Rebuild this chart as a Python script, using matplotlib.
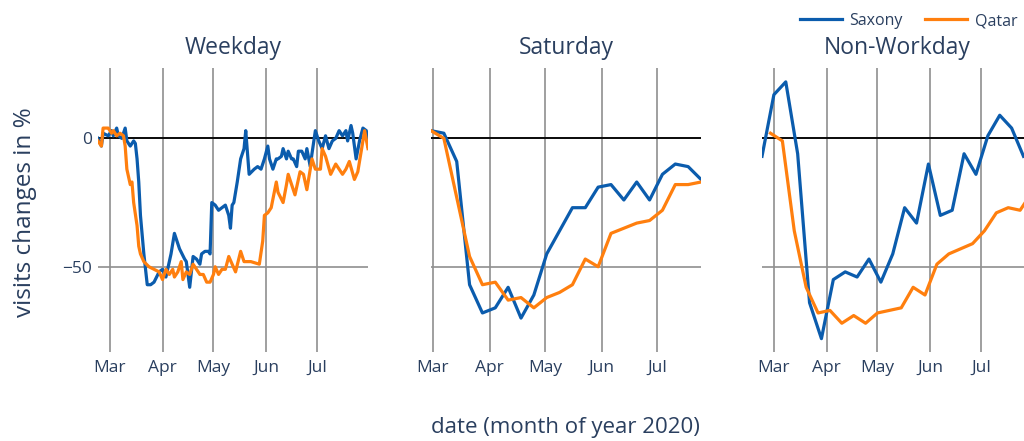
import matplotlib
matplotlib.use("Agg")
import matplotlib.pyplot as plt
import numpy as np

plt.rcParams['font.family'] = ['Open Sans', 'DejaVu Sans']

# day offsets are counted from 2020-03-01
start = np.datetime64('2020-03-01')

panels = ["Weekday", "Saturday", "Non-Workday"]
months = ['2020-03-01', '2020-04-01', '2020-05-01', '2020-06-01', '2020-07-01']
month_labels = ["Mar", "Apr", "May", "Jun", "Jul"]

# Weekday
wd_saxony_days = [-7, -5, -4, -1, 1, 2, 4, 5, 7, 9, 10, 12, 14, 15, 16, 17, 18, 20, 22, 24,
                  26, 29, 31, 33, 36, 38, 41, 44, 45, 47, 49, 51, 53, 54, 56, 58, 59, 60, 62, 64,
                  66, 68, 70, 71, 72, 73, 75, 77, 79, 80, 82, 85, 87, 89, 91, 93, 94, 96, 98, 99,
                  101, 102, 104, 105, 107, 108, 110, 111, 113, 115, 116, 118, 119, 121, 123, 125,
                  127, 129, 131, 133, 135, 137, 139, 140, 142, 143, 145, 147, 149, 151, 152]
wd_saxony = [0, -3, 2, 1, 3, 1, 4, 1, 0, 4, -1, -3, -1, -2, -8, -17, -30, -45, -57, -57,
             -56, -52, -51, -54, -45, -37, -43, -47, -48, -58, -46, -47, -49, -45, -44, -44, -45, -25, -26, -28,
             -27, -26, -30, -35, -26, -25, -17, -8, -4, 3, -14, -12, -11, -12, -8, -3, -8, -12, -8, -8,
             -7, -4, -8, -5, -8, -8, -11, -5, -5, -8, -4, -11, -6, 3, -1, -4,
             1, -4, -1, 0, 3, 1, 3, -1, 5, 2, -8, -1, 4, 3, -3]

wd_qatar_days = [-7, -5, -4, -1, 1, 2, 4, 6, 8, 9, 10, 12, 13, 14, 16, 17, 18, 20, 23, 26,
                 29, 31, 33, 35, 37, 38, 40, 42, 43, 45, 47, 49, 51, 53, 55, 57, 59, 61, 62, 64,
                 66, 68, 70, 72, 74, 77, 79, 83, 88, 90, 91, 93, 95, 98, 99, 102, 104, 105, 107, 109,
                 112, 114, 116, 119, 121, 124, 125, 127, 130, 133, 135, 137, 139, 141, 144, 146,
                 148, 150, 152]
wd_qatar = [-1, -3, 4, 4, 2, 3, 1, 2, 1, -3, -12, -18, -17, -25, -34, -42, -45, -48, -50, -51,
            -52, -55, -51, -53, -51, -54, -52, -48, -55, -52, -53, -49, -51, -53, -53, -56, -56, -53, -50, -53,
            -51, -51, -46, -49, -52, -44, -48, -48, -49, -40, -30, -29, -27, -17, -21, -25, -18, -14, -18, -22,
            -13, -14, -20, -8, -12, -12, -4, -7, -14, -10, -12, -14, -12, -9, -16, -13,
            -5, 3, -4]

# Saturday
sat_days = [-1, 6, 13, 20, 27, 34, 41, 48, 55, 62, 69, 76, 83, 90, 97, 104, 111, 118, 125, 132, 139, 146]
sat_saxony = [3, 2, -9, -57, -68, -66, -58, -70, -61, -45, -36, -27, -27, -19, -18, -24, -17, -24, -14, -10, -11, -16]
sat_qatar = [3, 0, -23, -46, -57, -56, -63, -62, -66, -62, -60, -57, -47, -50, -37, -35, -33, -32, -28, -18, -18, -17]

# Non-Workday (Sundays for Saxony, Fridays for Qatar)
nw_saxony_days = [-7, 0, 7, 14, 21, 28, 35, 42, 49, 56, 63, 70, 77, 84, 91, 98, 105, 112, 119, 126, 133, 140, 147]
nw_saxony = [-7, 17, 22, -6, -64, -78, -55, -52, -54, -47, -56, -45, -27, -33, -10, -30, -28, -6, -14, 1, 9, 4, -7]
nw_qatar_days = [-2, 5, 12, 19, 26, 33, 40, 47, 54, 61, 68, 75, 82, 89, 96, 103, 110, 117, 124, 131, 138, 145, 152]
nw_qatar = [2, -1, -36, -58, -68, -67, -72, -69, -72, -68, -67, -66, -58, -61, -49, -45, -43, -41, -36, -29, -27, -28, -21]

series = [
    (wd_saxony_days, wd_saxony, wd_qatar_days, wd_qatar),
    (sat_days, sat_saxony, sat_days, sat_qatar),
    (nw_saxony_days, nw_saxony, nw_qatar_days, nw_qatar),
]

blue = "#0b5cad"
orange = "#ff7f0e"
txt = "#2a3f5f"
W, H = 1024, 441

fig = plt.figure(figsize=(W / 100, H / 100), dpi=100)
lefts = [98, 431, 762]
ax_w, ax_top, ax_bot = 270, 68, 352

def to_dates(days):
    return start + np.array(days, dtype='timedelta64[D]')

for i, (title, (sd, sv, qd, qv)) in enumerate(zip(panels, series)):
    ax = fig.add_axes([lefts[i] / W, 1 - ax_bot / H, ax_w / W, (ax_bot - ax_top) / H])
    xs_all = np.concatenate([to_dates(sd), to_dates(qd)])
    ax.plot(to_dates(sd), sv, color=blue, lw=2.3, label="Saxony", zorder=3)
    ax.plot(to_dates(qd), qv, color=orange, lw=2.3, label="Qatar", zorder=3)
    ax.axhline(0, color="black", lw=1.3, zorder=2)
    ax.set_xlim(xs_all.min(), xs_all.max())
    ax.set_ylim(-83.2, 27.4)
    ax.set_xticks([np.datetime64(m) for m in months])
    ax.set_xticklabels(month_labels)
    ax.set_yticks([-50, 0])
    if i == 0:
        ax.set_yticklabels(["\u221250", "0"])
    else:
        ax.set_yticklabels([])
    ax.grid(True, color="#8f8f8f", lw=1.2, zorder=1)
    for s in ax.spines.values():
        s.set_visible(False)
    ax.tick_params(length=0, labelsize=12.5, colors=txt)
    ax.tick_params(axis='x', pad=6)
    ax.tick_params(axis='y', pad=4)
    ax.text(0.5, 1 + 20 / (ax_bot - ax_top), title, transform=ax.transAxes,
            ha="center", va="center", fontsize=16.5, color=txt)
    if i == 0:
        handles, labels = ax.get_legend_handles_labels()

fig.text(25 / W, 1 - 212 / H, "visits changes in %", rotation=90, ha="center", va="center",
         fontsize=17.5, color=txt)
fig.text(565 / W, 1 - 427 / H, "date (month of year 2020)", ha="center", va="center",
         fontsize=16, color=txt)

leg = fig.legend(handles, labels, loc="center left", bbox_to_anchor=(800 / W, 1 - 21 / H),
                 ncol=2, frameon=False, fontsize=11.5, handlelength=2.6, handletextpad=0.5,
                 columnspacing=1.4, borderpad=0, borderaxespad=0)
for t in leg.get_texts():
    t.set_color(txt)

fig.savefig("out.png", dpi=100)
